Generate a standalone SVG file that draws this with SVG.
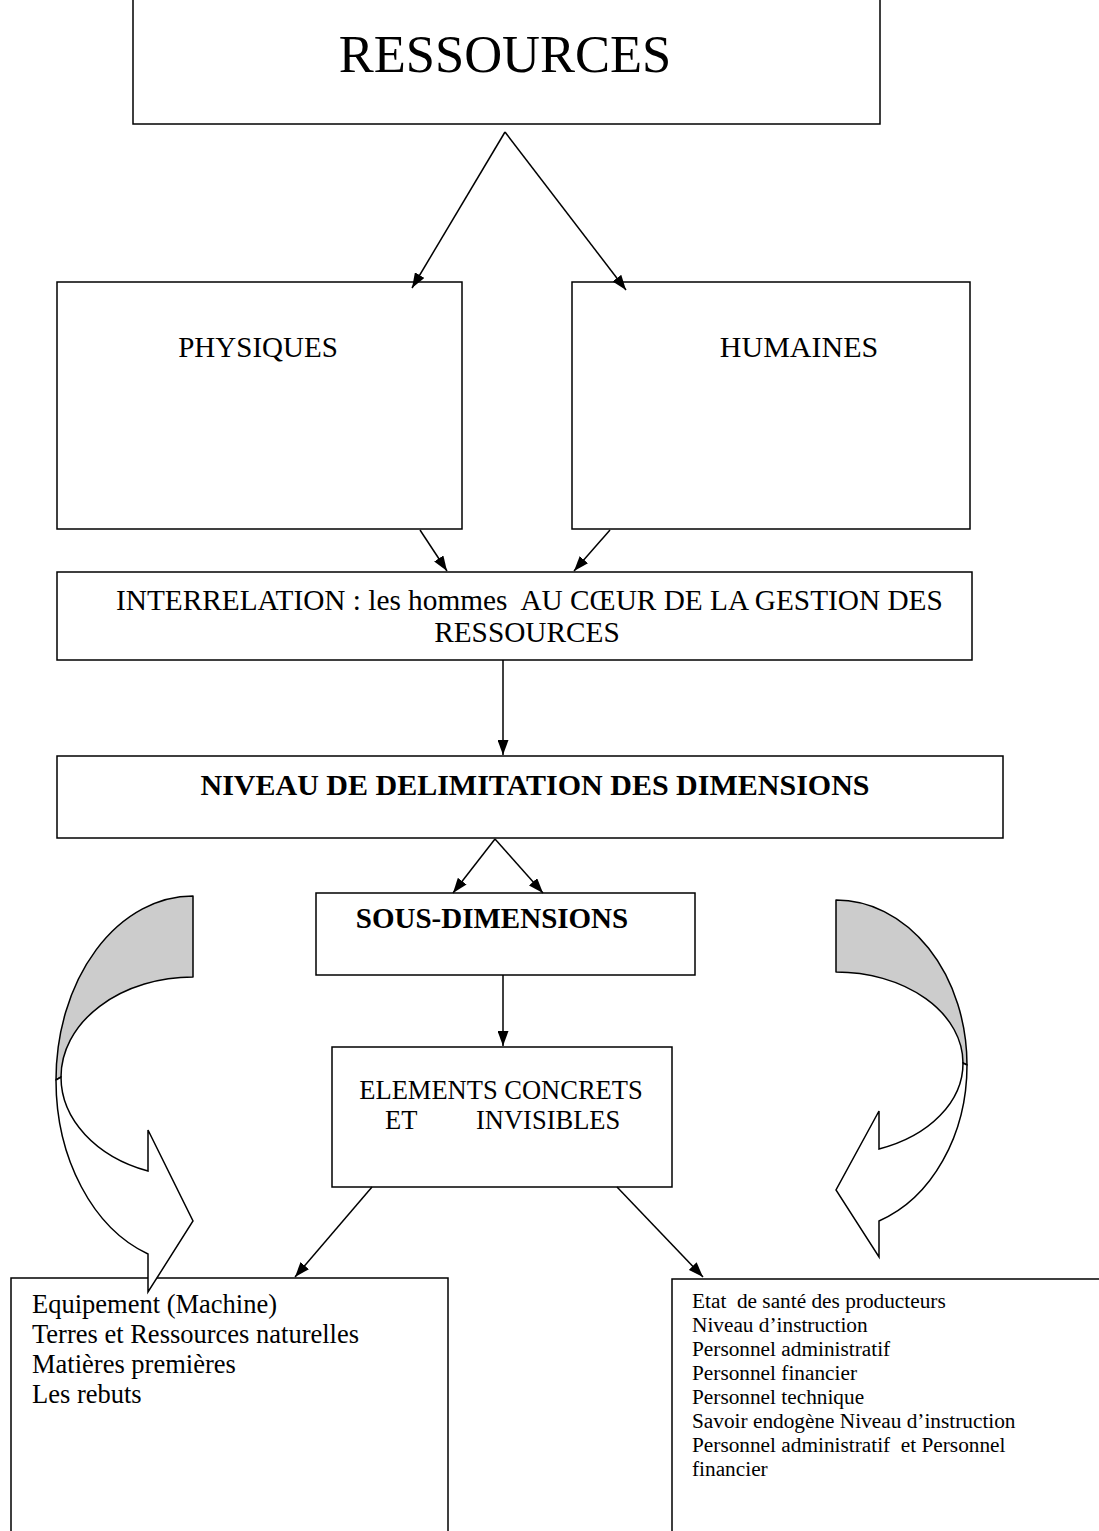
<svg xmlns="http://www.w3.org/2000/svg" width="1099" height="1531" viewBox="0 0 1099 1531">
  <defs>
    <marker id="arrow" markerUnits="userSpaceOnUse" markerWidth="15" markerHeight="11" viewBox="0 0 15 11" refX="15" refY="5.5" orient="auto">
      <path d="M0,0 L15,5.5 L0,11 Z" fill="#000"/>
    </marker>
    <style>
      .box { fill: #fff; stroke: #000; stroke-width: 1.5; }
      .t { font-family: "Liberation Serif", "Times New Roman", serif; fill: #000; white-space: pre; }
      .b { font-weight: bold; }
      .link { fill: none; stroke: #000; stroke-width: 1.5; marker-end: url(#arrow); }
      .back { fill: #cccccc; stroke: #000; stroke-width: 1.5; stroke-linejoin: round; }
      .front { fill: #fff; stroke: #000; stroke-width: 1.5; stroke-linejoin: miter; }
    </style>
  </defs>
  <rect width="1099" height="1531" fill="#fff"/>

  <g id="ressources">
    <rect class="box" x="133" y="-5" width="747" height="129"/>
    <text class="t" x="505" y="72" font-size="52.5" text-anchor="middle">RESSOURCES</text>
  </g>

  <g id="physiques">
    <rect class="box" x="57" y="282" width="405" height="247"/>
    <text class="t" x="258" y="357" font-size="29" text-anchor="middle">PHYSIQUES</text>
  </g>

  <g id="humaines">
    <rect class="box" x="572" y="282" width="398" height="247"/>
    <text class="t" x="799" y="357" font-size="30" text-anchor="middle">HUMAINES</text>
  </g>

  <g id="interrelation">
    <rect class="box" x="57" y="572" width="915" height="88"/>
    <text class="t" x="116" y="610" font-size="29.3">INTERRELATION : les hommes  AU CŒUR DE LA GESTION DES</text>
    <text class="t" x="527" y="642" font-size="29.3" text-anchor="middle">RESSOURCES</text>
  </g>

  <g id="niveau">
    <rect class="box" x="57" y="756" width="946" height="82"/>
    <text class="t b" x="535" y="795" font-size="30" text-anchor="middle">NIVEAU DE DELIMITATION DES DIMENSIONS</text>
  </g>

  <g id="sous-dimensions">
    <rect class="box" x="316" y="893" width="379" height="82"/>
    <text class="t b" x="492" y="928" font-size="29" text-anchor="middle">SOUS-DIMENSIONS</text>
  </g>

  <g id="elements">
    <rect class="box" x="332" y="1047" width="340" height="140"/>
    <text class="t" x="501" y="1099" font-size="26.5" text-anchor="middle">ELEMENTS CONCRETS</text>
    <text class="t" font-size="26.5" y="1129"><tspan x="385">ET</tspan><tspan x="476">INVISIBLES</tspan></text>
  </g>

  <g id="physical-items">
    <rect class="box" x="11" y="1278" width="437" height="270"/>
    <text class="t" font-size="26.5">
      <tspan x="32" y="1313">Equipement (Machine)</tspan>
      <tspan x="32" y="1343">Terres et Ressources naturelles</tspan>
      <tspan x="32" y="1373">Matières premières</tspan>
      <tspan x="32" y="1403">Les rebuts</tspan>
    </text>
  </g>

  <g id="human-items">
    <rect class="box" x="672" y="1279" width="440" height="270"/>
    <text class="t" font-size="21.3">
      <tspan x="692" y="1308">Etat  de santé des producteurs</tspan>
      <tspan x="692" y="1332">Niveau d’instruction</tspan>
      <tspan x="692" y="1356">Personnel administratif</tspan>
      <tspan x="692" y="1380">Personnel financier</tspan>
      <tspan x="692" y="1404">Personnel technique</tspan>
      <tspan x="692" y="1428">Savoir endogène Niveau d’instruction</tspan>
      <tspan x="692" y="1452">Personnel administratif  et Personnel</tspan>
      <tspan x="692" y="1476">financier</tspan>
    </text>
  </g>

  <g id="connectors">
    <line class="link" x1="505" y1="132" x2="412" y2="288"/>
    <line class="link" x1="505" y1="132" x2="626" y2="290"/>
    <line class="link" x1="420" y1="530" x2="447" y2="571"/>
    <line class="link" x1="610" y1="530" x2="574" y2="571"/>
    <line class="link" x1="503" y1="660" x2="503" y2="755"/>
    <line class="link" x1="495" y1="839" x2="453" y2="893"/>
    <line class="link" x1="495" y1="839" x2="543" y2="893"/>
    <line class="link" x1="503" y1="975" x2="503" y2="1046"/>
    <line class="link" x1="372" y1="1187" x2="295" y2="1277"/>
    <line class="link" x1="617" y1="1187" x2="703" y2="1277"/>
  </g>

  <!-- curved block arrow on the left: shaded back band, white front with head -->
  <g id="curved-arrow-left">
    <path class="back" d="M193,896 A137,184 0 0 0 56,1080 L61,1077 A132,100 0 0 1 193,977 Z"/>
    <path class="front" d="M56,1080 A137,184 0 0 0 148,1254 L148,1292 L193,1221 L148,1130 L148,1171 A132,100 0 0 1 61,1077 Z"/>
  </g>

  <!-- curved block arrow on the right -->
  <g id="curved-arrow-right">
    <path class="back" d="M836,900 A131,165 0 0 1 967,1065 L963,1063 A127,91 0 0 0 836,972 Z"/>
    <path class="front" d="M967,1065 A131,165 0 0 1 879,1221 L879,1257 L836,1190 L879,1111 L879,1149 A127,91 0 0 0 963,1063 Z"/>
  </g>
</svg>
